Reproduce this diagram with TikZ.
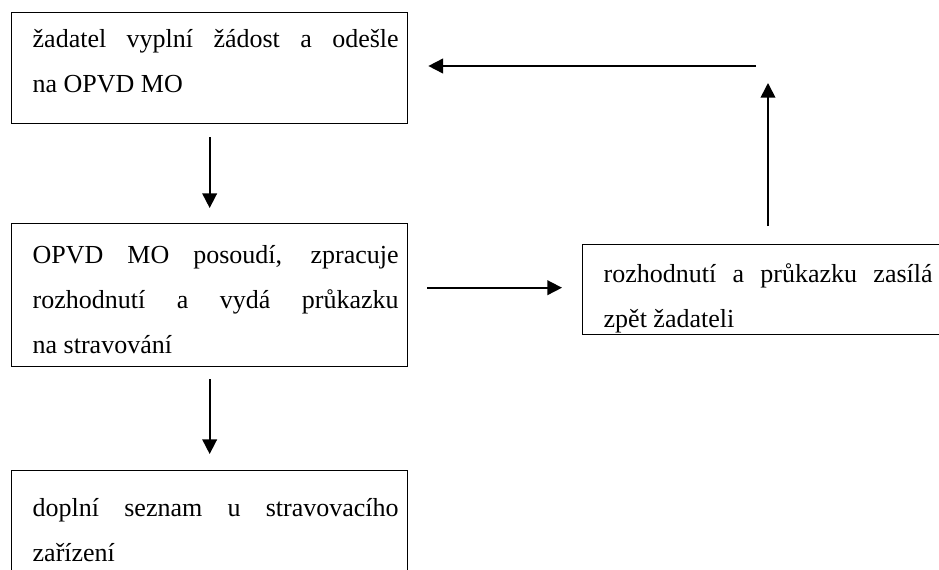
\documentclass[tikz,border=0pt]{standalone}
\usepackage{fontspec}
\setmainfont{Liberation Serif}
\usetikzlibrary{arrows.meta}
\tolerance=10000
\hyphenpenalty=10000
% margins inside the text frames (Word-like)
\newcommand{\pad}{\leftskip=15.75pt\rightskip=6.75pt\relax}

\begin{document}
\begin{tikzpicture}[x=0.75pt,y=0.75pt,yscale=-1,xscale=1,
  stage/.style={draw, line width=1pt, anchor=north west, inner sep=0pt,
    text width=297pt, align=justify, font=\fontsize{19.5pt}{33.75pt}\selectfont},
  flow/.style={line width=1.3pt, -{Triangle[length=11pt,width=11pt]}}]
\useasboundingbox (0,0) rectangle (939,569);
\clip (0,0) rectangle (939,569);

% Text Node
\node[stage, text height=26.25pt, text depth=57pt] (request) at (11,12)
  {\pad žadatel vyplní žádost a odešle\linebreak na OPVD MO\par};
% Text Node
\node[stage, text height=30pt, text depth=77.25pt] (assess) at (11,223)
  {\pad OPVD MO posoudí, zpracuje\linebreak rozhodnutí a vydá průkazku\linebreak na stravování\par};
% Text Node
\node[stage, text height=34.5pt, text depth=90pt] (canteen) at (11,470)
  {\pad doplní seznam u stravovacího\linebreak zařízení\par};
% Text Node
\node[stage, text width=269.25pt, text height=28.5pt, text depth=39pt] (send) at (582,244)
  {\pad rozhodnutí a průkazku zasílá\linebreak zpět žadateli\par};

\coordinate (turn) at (768,66);

%Straight Lines
\draw[flow, shorten <=9.75pt, shorten >=11.25pt] (request.south) -- (assess.north);
%Straight Lines
\draw[flow, shorten <=9pt, shorten >=12pt] (assess.south) -- (canteen.north);
%Straight Lines
\draw[flow, shorten <=14.25pt, shorten >=15pt] ([yshift=-5.6pt]assess.east) -- ([yshift=-5.6pt]assess.east -| send.west);
%Straight Lines
\draw[flow, shorten <=13.5pt, shorten >=12.75pt] (send.north -| turn) -- (turn);
%Straight Lines
\draw[flow, shorten <=9pt, shorten >=15pt] (turn) -- (request.east |- turn);

\end{tikzpicture}
\end{document}
